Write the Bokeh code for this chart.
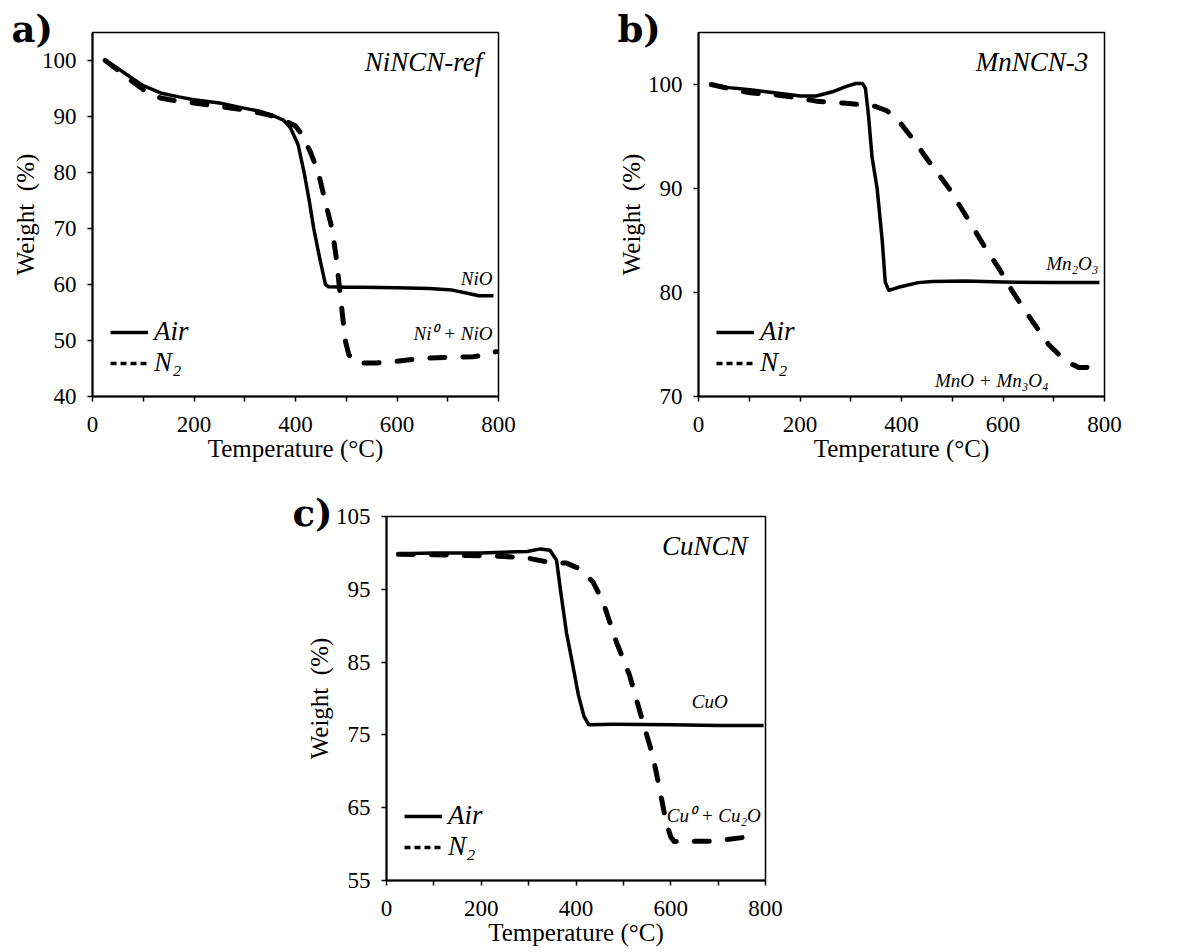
from bokeh.plotting import figure
from bokeh.models import FixedTicker, Legend, LegendItem, Label, Range1d, Spacer, Title
from bokeh.layouts import column, row
from bokeh.embed import file_html
from bokeh.resources import INLINE

# ---------------- data ----------------
# a) NiNCN-ref
a_air_T = [25, 50, 75, 100, 134, 170, 200, 250, 298, 331, 360, 377, 390, 405, 417, 427, 436, 447, 459, 465, 500, 532, 600, 663, 709, 741, 761, 790]
a_air_W = [100, 98.6, 97.0, 95.5, 94.2, 93.5, 93.0, 92.4, 91.5, 90.9, 90.0, 89.3, 88.0, 85.0, 80.0, 75.0, 70.0, 65.0, 60.0, 59.6, 59.5, 59.5, 59.4, 59.3, 59.0, 58.4, 58.0, 58.0]
a_n2_T = [25, 50, 75, 100, 134, 170, 200, 250, 298, 331, 360, 380, 400, 415, 430, 445, 458, 472, 480, 486, 492, 498, 505, 515, 530, 560, 600, 650, 700, 750, 780, 795]
a_n2_W = [100, 98.3, 96.5, 94.8, 93.3, 92.7, 92.4, 91.8, 91.2, 90.6, 90.0, 89.2, 88.3, 86.5, 83.5, 80.0, 75.0, 70.0, 65.0, 60.0, 55.0, 50.0, 47.5, 46.2, 46.0, 46.0, 46.3, 46.8, 47.0, 47.1, 47.5, 48.0]

# b) MnNCN-3
b_air_T = [25, 60, 102, 150, 201, 232, 264, 290, 310, 323, 329, 335, 342, 352, 362, 368, 375, 394, 433, 460, 526, 600, 700, 790]
b_air_W = [100, 99.7, 99.5, 99.2, 98.9, 98.9, 99.3, 99.8, 100.1, 100.1, 99.6, 97.0, 93.0, 90.0, 85.0, 81.0, 80.2, 80.5, 80.95, 81.05, 81.1, 81.0, 80.95, 80.95]
b_n2_T = [25, 60, 102, 150, 201, 232, 291, 348, 370, 388, 421, 454, 493, 533, 565, 591, 618, 657, 690, 723, 749, 765, 790]
b_n2_W = [100, 99.6, 99.2, 99.0, 98.7, 98.4, 98.2, 97.9, 97.5, 96.9, 94.85, 92.6, 90.06, 86.9, 84.3, 82.4, 80.15, 77.3, 75.0, 73.4, 72.8, 72.8, 73.2]

# c) CuNCN
c_air_T = [25, 100, 200, 297, 325, 345, 359, 367, 380, 392, 405, 417, 427, 479, 600, 700, 796]
c_air_W = [99.9, 100.0, 100.0, 100.2, 100.55, 100.35, 99.0, 95.0, 89.0, 85.0, 80.5, 77.5, 76.4, 76.45, 76.4, 76.3, 76.3]
c_n2_T = [25, 100, 201, 250, 297, 339, 380, 408, 436, 457, 485, 513, 541, 562, 576, 590, 600, 607, 688, 765]
c_n2_W = [99.8, 99.75, 99.6, 99.5, 99.3, 98.75, 98.6, 97.8, 96.0, 93.3, 87.8, 83.2, 76.8, 72.2, 67.7, 63.1, 61.0, 60.35, 60.4, 61.0]

x_ticks = [0, 200, 400, 600, 800]
x_minor = [100, 300, 500, 700]
a_yticks = [40, 50, 60, 70, 80, 90, 100]
b_yticks = [70, 80, 90, 100]
c_yticks = [55, 65, 75, 85, 95, 105]

SERIF = "Liberation Serif"


def make_panel(width, height, borders, yrange, yticks, airT, airW, n2T, n2W,
               name, name_xy, notes, letter, letter_offset, pad_font):
    left, right, top, bottom = borders
    p = figure(width=width, height=height, output_backend="svg", toolbar_location=None,
               x_range=Range1d(0, 800), y_range=Range1d(*yrange),
               min_border_left=left, min_border_right=right,
               min_border_top=top, min_border_bottom=bottom)
    p.xgrid.visible = False
    p.ygrid.visible = False
    p.outline_line_color = "black"
    p.outline_line_width = 1.5
    p.background_fill_color = "white"
    p.border_fill_color = "white"

    # outermost (blank) title only reserves a little room above the panel letter
    p.title.text = " "
    p.title.standoff = 0
    p.title.text_font_size = pad_font

    # panel letter, sitting next to the frame
    p.add_layout(Title(text=letter, align="left", offset=letter_offset, standoff=-36,
                       text_font="DejaVu Serif", text_font_style="bold",
                       text_font_size="37px", text_color="black"), "above")

    p.xaxis.ticker = FixedTicker(ticks=x_ticks, minor_ticks=x_minor)
    p.yaxis.ticker = FixedTicker(ticks=yticks, minor_ticks=[])
    for ax in (p.xaxis, p.yaxis):
        ax.axis_line_color = "black"
        ax.axis_line_width = 2
        ax.major_tick_line_color = "black"
        ax.major_tick_line_width = 1.5
        ax.major_tick_in = 0
        ax.major_tick_out = 5
        ax.minor_tick_line_color = "black"
        ax.minor_tick_line_width = 1.5
        ax.minor_tick_in = 0
        ax.minor_tick_out = 5
        ax.major_label_text_font = SERIF
        ax.major_label_text_font_size = "23px"
        ax.major_label_text_color = "black"
        ax.axis_label_text_font = SERIF
        ax.axis_label_text_font_size = "25px"
        ax.axis_label_text_font_style = "normal"
        ax.axis_label_text_color = "black"
    p.xaxis.axis_label = "Temperature (°C)"
    p.yaxis.axis_label = "Weight\u00a0\u00a0(%)"
    p.xaxis.major_label_standoff = 15
    p.xaxis.axis_label_standoff = 0
    p.yaxis.major_label_standoff = 11
    p.yaxis.axis_label_standoff = 0

    p.line(airT, airW, line_color="black", line_width=3.5, line_join="round")
    p.line(n2T, n2W, line_color="black", line_width=5, line_dash="15 18",
           line_cap="round", line_join="round")

    # legend glyphs (Excel-style short dashes), drawn on a hidden range
    p.extra_y_ranges = {"legend": Range1d(start=1000, end=1001)}
    r_air = p.line(airT, airW, line_color="black", line_width=3.5, y_range_name="legend")
    r_n2 = p.line(n2T, n2W, line_color="black", line_width=3.5, line_dash="6 4",
                  y_range_name="legend")
    leg = Legend(items=[LegendItem(label="Air", renderers=[r_air]),
                        LegendItem(label="N₂", renderers=[r_n2])],
                 location="bottom_left", background_fill_alpha=0, border_line_alpha=0,
                 label_text_font=SERIF, label_text_font_style="italic",
                 label_text_font_size="27px", label_text_color="black",
                 glyph_width=38, glyph_height=28, label_height=28, label_standoff=6,
                 spacing=0, padding=6, margin=12)
    p.add_layout(leg)

    p.add_layout(Label(x=name_xy[0], y=name_xy[1], text=name, text_font=SERIF,
                       text_font_style="italic", text_font_size="27px", text_color="black",
                       text_align="right", text_baseline="middle"))
    for (txt, x, y) in notes:
        p.add_layout(Label(x=x, y=y, text=txt, text_font=SERIF, text_font_style="italic",
                           text_font_size="19px", text_color="black",
                           text_align="right", text_baseline="middle"))
    return p


pa = make_panel(600, 470, (92, 102, 32, 74), (40, 105), a_yticks,
                a_air_T, a_air_W, a_n2_T, a_n2_W,
                "NiNCN-ref", (768, 99.8),
                [("NiO", 788, 61.1), ("Ni⁰ + NiO", 788, 51.25)],
                "a)", -81, "16px")
pb = make_panel(598, 470, (98, 94, 32, 74), (70, 105), b_yticks,
                b_air_T, b_air_W, b_n2_T, b_n2_W,
                "MnNCN-3", (768, 102.2),
                [("Mn₂O₃", 788, 82.8), ("MnO + Mn₃O₄", 690, 71.55)],
                "b)", -81, "16px")
pc = make_panel(517, 482, (98, 40, 46, 72), (55, 105), c_yticks,
                c_air_T, c_air_W, c_n2_T, c_n2_W,
                "CuNCN", (762, 100.9),
                [("CuO", 720, 79.6), ("Cu⁰ + Cu₂O", 790, 63.9)],
                "c)", -94, "28px")

layout = column(row(pa, pb), row(Spacer(width=288, height=482), pc))

open("out.html", "w").write(file_html(layout, INLINE))
